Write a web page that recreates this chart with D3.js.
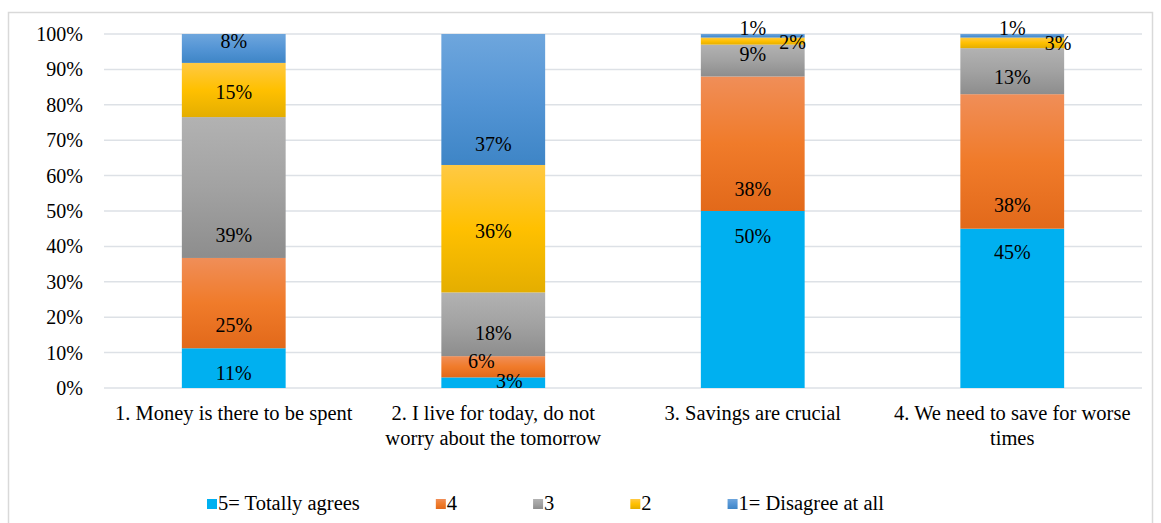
<!DOCTYPE html>
<html>
<head>
<meta charset="utf-8">
<script src="https://cdn.jsdelivr.net/npm/d3@7"></script>
<style>
	body { margin: 0; background: #fff; }
</style>
</head>
<body>
<div class="chart"></div>
<script>
// categories (x axis), wrapped lines
const categories = [
	['1. Money is there to be spent'],
	['2. I live for today, do not', 'worry about the tomorrow'],
	['3. Savings are crucial'],
	['4. We need to save for worse', 'times']
]
// series, bottom to top
const seriesNames = ['5= Totally agrees', '4', '3', '2', '1= Disagree at all']
const s5 = [11, 3, 50, 45]
const s4 = [25, 6, 38, 38]
const s3 = [39, 18, 9, 13]
const s2 = [15, 36, 2, 3]
const s1 = [8, 37, 1, 1]
const yTicks = [0, 10, 20, 30, 40, 50, 60, 70, 80, 90, 100]

// where each data label sits on the % axis (placed by hand in the original)
const labelAt5 = [2.3, 0, 41, 36.4]
const labelAt4 = [15.8, 5.6, 54.2, 49.8]
const labelAt3 = [41.2, 13.6, 92.5, 85.9]
const labelAt2 = [81.6, 42.4, 95.7, 95.5]
const labelAt1 = [96, 66.9, 99.7, 99.7]

const seriesValues = [s5, s4, s3, s2, s1]
const labelAt = [labelAt5, labelAt4, labelAt3, labelAt2, labelAt1]
// colours: [top, middle, bottom] of the gradient
const colors = [
	['#00B0F0', '#00B0F0', '#00B0F0'],
	['#F08E58', '#F07B2A', '#E2691A'],
	['#B2B2B2', '#A2A2A2', '#8D8D8D'],
	['#FFC944', '#FFC000', '#E4AE00'],
	['#6EA6DD', '#5495D5', '#3E85C6']
]
const font = "'Liberation Serif', 'Times New Roman', 'DejaVu Serif', serif"

const width = 1161
const height = 523
const svg = d3.select('.chart')
	.append('svg')
	.attr('width', width)
	.attr('height', height)
	.attr('font-family', font)

// outer border
svg.append('rect')
	.attr('x', 8.5).attr('y', 12.5)
	.attr('width', 1144).attr('height', 512)
	.attr('fill', 'none')
	.attr('stroke', '#D9D9D9')
	.attr('stroke-width', 1.5)

// gradients
const defs = svg.append('defs')
colors.forEach((c, i) => {
	const g = defs.append('linearGradient')
		.attr('id', 'grad' + i)
		.attr('x1', 0).attr('y1', 0).attr('x2', 0).attr('y2', 1)
	g.append('stop').attr('offset', '0%').attr('stop-color', c[0])
	g.append('stop').attr('offset', '50%').attr('stop-color', c[1])
	g.append('stop').attr('offset', '100%').attr('stop-color', c[2])
})

const x = d3.scaleBand()
	.domain(d3.range(categories.length))
	.range([104, 1142])
	.paddingInner(0.6)
	.paddingOuter(0.3)

const y = d3.scaleLinear()
	.domain([0, 100])
	.range([388, 34])

// gridlines
svg.selectAll('line.grid')
	.data(yTicks)
	.enter()
	.append('line')
	.attr('class', 'grid')
	.attr('x1', 104).attr('x2', 1142)
	.attr('y1', d => y(d)).attr('y2', d => y(d))
	.attr('stroke', '#DDE1E6')
	.attr('stroke-width', 1.5)

// y tick labels
svg.selectAll('text.ytick')
	.data(yTicks)
	.enter()
	.append('text')
	.attr('class', 'ytick')
	.text(d => d + '%')
	.attr('x', 83)
	.attr('y', d => y(d) + 7)
	.attr('text-anchor', 'end')
	.attr('font-size', '20px')

// stack data (100% stacked)
const rows = categories.map((c, i) => {
	const r = { i: i }
	seriesValues.forEach((s, k) => r['s' + k] = s[i])
	return r
})
const keys = seriesValues.map((s, k) => 's' + k)
const stacked = d3.stack().keys(keys).offset(d3.stackOffsetExpand)(rows)

const layers = svg.selectAll('g.layer')
	.data(stacked)
	.enter()
	.append('g')
	.attr('class', 'layer')
	.attr('fill', (d, k) => 'url(#grad' + k + ')')

layers.selectAll('rect')
	.data(d => d)
	.enter()
	.append('rect')
	.attr('x', d => x(d.data.i))
	.attr('width', x.bandwidth())
	.attr('y', d => y(d[1] * 100))
	.attr('height', d => y(d[0] * 100) - y(d[1] * 100))

// value labels
const labelData = []
seriesValues.forEach((s, k) => {
	s.forEach((v, i) => labelData.push({ k: k, i: i, v: v, at: labelAt[k][i] }))
})
// tiny segments: label pushed sideways as in the original
function labelX(d) {
	const cx = x(d.i) + x.bandwidth() / 2
	if (d.k === 3 && d.v <= 3) return x(d.i) + x.bandwidth() - 12 + (d.i === 3 ? 6 : 0)
	if (d.k === 0 && d.v <= 3) return cx + 16
	if (d.k === 1 && d.v <= 6) return cx - 12
	return cx
}
svg.selectAll('text.val')
	.data(labelData)
	.enter()
	.append('text')
	.attr('class', 'val')
	.text(d => d.v + '%')
	.attr('x', labelX)
	.attr('y', d => y(d.at))
	.attr('text-anchor', 'middle')
	.attr('font-size', '20px')

// category labels
const cat = svg.selectAll('text.cat')
	.data(categories)
	.enter()
	.append('text')
	.attr('class', 'cat')
	.attr('text-anchor', 'middle')
	.attr('font-size', '20.5px')
cat.selectAll('tspan')
	.data((d, i) => d.map(line => ({ line: line, i: i })))
	.enter()
	.append('tspan')
	.attr('x', d => x(d.i) + x.bandwidth() / 2)
	.attr('y', (d, j) => 420 + j * 25)
	.text(d => d.line)

// legend: items laid out one after the other
const legend = svg.selectAll('g.legend')
	.data(seriesNames)
	.enter()
	.append('g')
	.attr('class', 'legend')
legend.append('rect')
	.attr('x', 0).attr('y', -11)
	.attr('width', 10).attr('height', 10)
	.attr('fill', (d, k) => 'url(#grad' + k + ')')
legend.append('text')
	.text(d => d)
	.attr('x', 11)
	.attr('y', 0)
	.attr('font-size', '20.5px')
let lx = 207
legend.each(function() {
	const g = d3.select(this)
	g.attr('transform', 'translate(' + lx + ',510)')
	lx += 11 + g.select('text').node().getComputedTextLength() + 76
})
</script>
</body>
</html>
